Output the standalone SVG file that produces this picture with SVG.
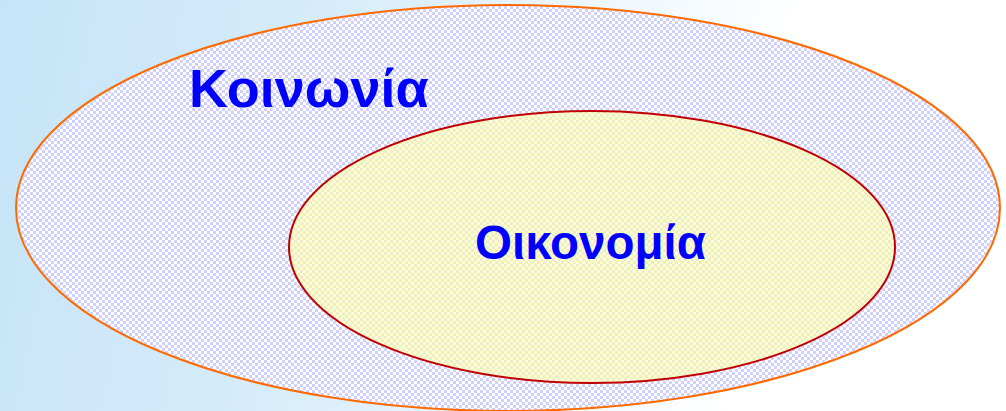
<svg xmlns="http://www.w3.org/2000/svg" width="1006" height="411" viewBox="0 0 1006 411">
<defs>
<linearGradient id="bg" x1="0" y1="0" x2="1" y2="0.08">
<stop offset="0" stop-color="#c6e4f8"/>
<stop offset="0.3" stop-color="#d4ebfa"/>
<stop offset="0.6" stop-color="#eef7fd"/>
<stop offset="0.8" stop-color="#ffffff"/>
</linearGradient>
<pattern id="chkBlue" width="6" height="6" patternUnits="userSpaceOnUse">
<rect width="6" height="6" fill="#ffffff"/>
<rect width="3" height="3" fill="#d0d0fc"/>
<rect x="3" y="3" width="3" height="3" fill="#d0d0fc"/>
</pattern>
<pattern id="chkYellow" width="6" height="6" patternUnits="userSpaceOnUse">
<rect width="6" height="6" fill="#ffffc8"/>
<rect width="3" height="3" fill="#ececcf"/>
<rect x="3" y="3" width="3" height="3" fill="#ececcf"/>
</pattern>
<style>
.lbl{font-family:"Liberation Sans",Arial,sans-serif;font-weight:bold;fill:#0000ff}
</style>
</defs>
<rect width="1006" height="411" fill="url(#bg)"/>
<g id="society">
<ellipse cx="508" cy="208" rx="492" ry="203" fill="url(#chkBlue)" stroke="#ff6a00" stroke-width="2"/>
<text class="lbl" x="189" y="107" font-size="54">Κοινωνία</text>
</g>
<g id="economy">
<ellipse cx="592" cy="247" rx="303" ry="136" fill="url(#chkYellow)" stroke="#c00000" stroke-width="2"/>
<text class="lbl" x="475" y="259" font-size="47.5">Οικονομία</text>
</g>
<g id="connectors"/>
</svg>
